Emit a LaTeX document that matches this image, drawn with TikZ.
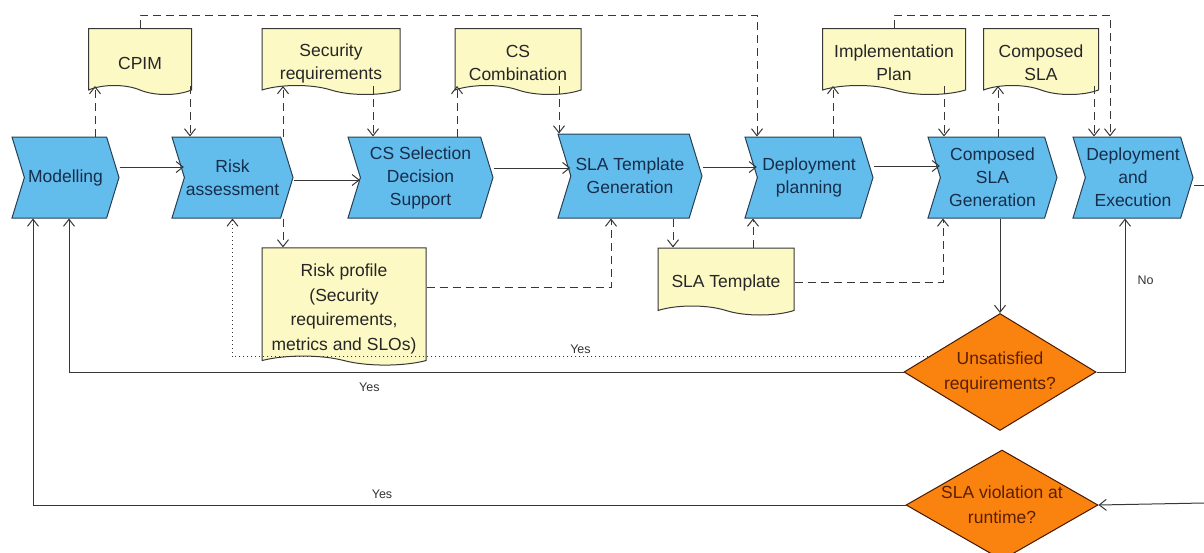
\documentclass[tikz,border=0pt]{standalone}
\usepackage{fontspec}
\setmainfont{Liberation Sans}
\usetikzlibrary{shapes.symbols}
\usetikzlibrary{shapes.geometric}
\usetikzlibrary{arrows.meta}
\usetikzlibrary{calc}
\definecolor{procfill}{RGB}{99,189,236}
\definecolor{procline}{RGB}{40,62,84}
\definecolor{proctext}{RGB}{22,45,75}
\definecolor{docfill}{RGB}{252,249,196}
\definecolor{decfill}{RGB}{250,131,16}
\definecolor{dectext}{RGB}{90,30,0}
\definecolor{linegray}{RGB}{55,55,55}
\newcommand{\docgap}{\rule{0pt}{25pt}}
\tikzset{proc/.style = {signal, signal to=east, signal from=west, signal pointer angle=146,
    draw=procline, fill=procfill, text=proctext, line width=1pt, minimum height=81pt,
    inner xsep=0pt, inner ysep=2pt, align=center, font=\fontsize{17.5}{23}\selectfont}}
\tikzset{doc/.style = {tape, tape bend top=none, tape bend bottom=out and in, tape bend height=9pt,
    draw=linegray, fill=docfill, text=black!85, line width=1pt, minimum height=66pt,
    inner sep=2pt, align=center, font=\fontsize{17.5}{23}\selectfont}}
\tikzset{dec/.style = {diamond, draw=dectext!80!black, fill=decfill, text=dectext, line width=1pt,
    minimum width=192pt, inner xsep=-20pt, inner ysep=-12pt, align=center,
    font=\fontsize{17.5}{25}\selectfont}}
\tikzset{flow/.style = {-{Straight Barb[length=7pt,width=11pt]}, draw=linegray, line width=1pt}}
\tikzset{data/.style = {flow, dash pattern=on 8pt off 5pt}}
\tikzset{lbl/.style = {text=black!80, font=\fontsize{12.5}{15}\selectfont, inner sep=2pt}}

\begin{document}
\begin{tikzpicture}[x=1pt, y=-1pt]
      \useasboundingbox (0,0) rectangle (1204,552);
      \node [proc, minimum width=107pt] (model) at (65.5,177.5) {Modelling};
      \node [proc, minimum width=121pt] (risk) at (232.5,177.5) {Risk\\assessment};
      \node [proc, minimum width=145pt] (cssel) at (420.5,177.5) {CS Selection\\Decision\\Support};
      \node [proc, minimum width=144pt, minimum height=84pt] (slagen) at (630,176) {SLA Template\\Generation};
      \node [proc, minimum width=128pt] (dplan) at (809,177.5) {Deployment\\planning};
      \node [proc, minimum width=129pt] (compgen) at (992.5,177.5) {Composed\\SLA\\Generation};
      \node [proc, minimum width=120pt] (exe) at (1133,177.5) {Deployment\\and\\Execution};
      \node [doc, minimum width=103pt] (cpim) at (140,57) {\docgap CPIM};
      \node [doc, minimum width=138pt] (secreq) at (331,57) {\docgap Security\\requirements};
      \node [doc, minimum width=126pt] (cscomb) at (518,57) {\docgap CS\\Combination};
      \node [doc, minimum width=143pt] (implan) at (894,57) {\docgap Implementation\\Plan};
      \node [doc, minimum width=115pt] (compsla) at (1041,57) {\docgap Composed\\SLA};
      \node [doc, minimum width=164pt, minimum height=117pt, font=\fontsize{17.5}{24.5}\selectfont] (riskprof) at (344,302) {\rule{0pt}{27pt}Risk profile\\(Security\\requirements,\\metrics and SLOs)};
      \node [doc, minimum width=136pt, minimum height=67pt] (slatpl) at (726,277) {\docgap SLA Template};
      \node [dec, minimum height=117pt] (unsat) at (1000,372) {Unsatisfied\\requirements?};
      \node [dec, minimum height=110pt] (viol) at (1002,505) {SLA violation at\\runtime?};
      \coordinate (topa) at (757,15);
      \coordinate (topb) at (1110,15);
      \coordinate (exout) at (1204,185);
      \coordinate (viin) at (1204,503);
      \draw [flow] (model.east |- 0,167) -- (risk.west |- 0,167);
      \draw [flow] (risk.east |- 0,180) -- (cssel.west |- 0,180);
      \draw [flow] (cssel.east |- 0,168) -- (slagen.west |- 0,168);
      \draw [flow] (slagen.east |- 0,167) -- (dplan.west |- 0,167);
      \draw [flow] (dplan.east |- 0,166) -- (compgen.west |- 0,166);
      \draw [flow] (unsat.north |- compgen.south) -- (unsat.north);
      \draw [flow] (unsat.east) -| (1125,0 |- exe.south) node [lbl, pos=0.8, right=10pt] {No};
      \draw [draw=linegray, line width=1pt] (exe.east |- exout) -- (exout);
      \draw [flow] (viin) -- (viol.east);
      \draw [flow] (unsat.west) -| (69,0 |- model.south) node [lbl, pos=0.32, below=8pt] {Yes};
      \draw [flow] (viol.west) -| (33,0 |- model.south) node [lbl, pos=0.3, above=4pt] {Yes};
      \draw [flow, dash pattern=on 1pt off 3pt] (unsat.168) -| (risk.south) node [lbl, pos=0.25, above=1pt] {Yes};
      \draw [data] (95,0 |- model.north) -- (95,0 |- cpim.south);
      \draw [data] (190,0 |- cpim.south) -- (190,0 |- risk.north);
      \draw [data] (cpim.north) |- (topa) -- (topa |- dplan.north);
      \draw [data] (283,0 |- risk.north) -- (283,0 |- secreq.south);
      \draw [data] (283,0 |- risk.south) -- (283,0 |- riskprof.north);
      \draw [data] (373,0 |- secreq.south) -- (373,0 |- cssel.north);
      \draw [data] (457,0 |- cssel.north) -- (457,0 |- cscomb.south);
      \draw [data] (559,0 |- cscomb.south) -- (559,0 |- slagen.north);
      \draw [data] (riskprof.east |- 0,287) -| (611,0 |- slagen.south);
      \draw [data] (673,0 |- slagen.south) -- (673,0 |- slatpl.north);
      \draw [data] (753,0 |- slatpl.north) -- (753,0 |- dplan.south);
      \draw [data] (slatpl.east |- 0,282) -| (943,0 |- compgen.south);
      \draw [data] (833,0 |- dplan.north) -- (833,0 |- implan.south);
      \draw [data] (944,0 |- implan.south) -- (944,0 |- compgen.north);
      \draw [data] (998,0 |- compgen.north) -- (998,0 |- compsla.south);
      \draw [data] (1094,0 |- compsla.south) -- (1094,0 |- exe.north);
      \draw [data] (implan.north) |- (topb) -- (topb |- exe.north);
    \end{tikzpicture}
\end{document}
